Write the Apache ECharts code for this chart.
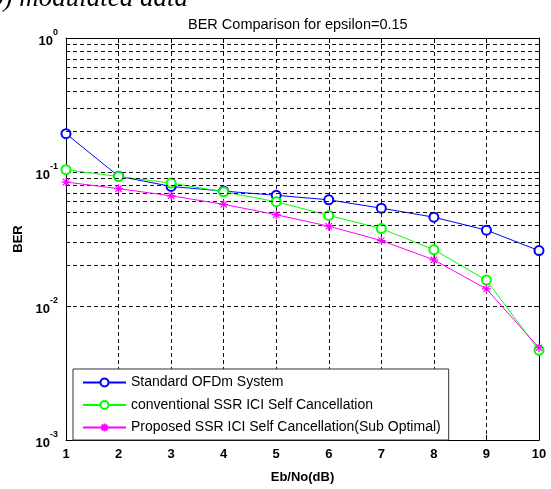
<!DOCTYPE html>
<html>
<head>
<meta charset="utf-8">
<style>
  html, body { margin: 0; padding: 0; background: #fff; }
  #chart { width: 551px; height: 489px; }
</style>
<script src="https://cdn.jsdelivr.net/npm/echarts@6/dist/echarts.min.js"></script>
</head>
<body>
<div id="chart"></div>
<script>
// Eb/No sweep (dB)
const ebno = [1, 2, 3, 4, 5, 6, 7, 8, 9, 10];

// BER curves
const standardOfdm = [0.193, 0.093, 0.078, 0.072, 0.067, 0.062, 0.0537, 0.046, 0.0368, 0.0259];
const conventionalSsr = [0.104, 0.0925, 0.0826, 0.0711, 0.060, 0.0474, 0.0378, 0.0263, 0.0156, 0.00467];
const proposedSsr = [0.0841, 0.0751, 0.0664, 0.0574, 0.048, 0.0394, 0.0308, 0.0221, 0.0134, 0.00488];

const seriesNames = [
  'Standard OFDm System',
  'conventional SSR ICI Self Cancellation',
  'Proposed SSR ICI Self Cancellation(Sub Optimal)'
];

// log-axis range and minor grid positions within each decade
const decades = [0.001, 0.01, 0.1];
const minorSteps = [2, 3, 4, 5, 6, 7, 8, 9];

const FONT = 'Liberation Sans, Arial, sans-serif';
const gridDash = { color: '#111', width: 1, type: [4, 3] };

const pairs = ys => ebno.map((x, i) => [x, ys[i]]);

const minorLines = [];
decades.forEach(d => minorSteps.forEach(m => minorLines.push({ yAxis: +(d * m).toPrecision(6) })));

const asterisk = 'path://M5,0L5,10M0,5L10,5M1.5,1.5L8.5,8.5M1.5,8.5L8.5,1.5';

const chart = echarts.init(document.getElementById('chart'), null, { renderer: 'canvas' });

chart.setOption({
  animation: false,
  backgroundColor: '#fff',
  title: {
    text: 'BER Comparison for epsilon=0.15',
    left: 183, top: 12,
    textStyle: { fontFamily: FONT, fontSize: 14.5, fontWeight: 'normal', color: '#000' }
  },
  graphic: [{
    type: 'text',
    left: -10, top: -15,
    style: {
      text: 'b) modulated data',
      font: 'italic 27px "Liberation Serif", "Times New Roman", serif',
      fill: '#000'
    }
  }],
  grid: { left: 66, right: 12, top: 38, bottom: 41, containLabel: false },
  legend: {
    orient: 'vertical',
    left: 73, top: 369,
    padding: [6, 8, 5, 9],
    itemWidth: 43, itemHeight: 10, itemGap: 7.5,
    backgroundColor: '#fff',
    borderColor: '#333', borderWidth: 1,
    textStyle: { fontFamily: FONT, fontSize: 14, color: '#000', lineHeight: 15 },
    data: seriesNames
  },
  xAxis: [{
    type: 'value', min: 1, max: 10, interval: 1,
    name: 'Eb/No(dB)', nameLocation: 'middle', nameGap: 31,
    nameTextStyle: { fontFamily: FONT, fontSize: 13, fontWeight: 'bold', color: '#000' },
    axisLine: { show: true, lineStyle: { color: '#000', width: 1 } },
    axisTick: { show: true, inside: true, length: 5, lineStyle: { color: '#000' } },
    axisLabel: { fontFamily: FONT, fontSize: 13, fontWeight: 'bold', color: '#000', margin: 8 },
    splitLine: { show: true, lineStyle: gridDash }
  }, {
    type: 'value', min: 1, max: 10, interval: 1, position: 'top',
    axisLine: { show: true, lineStyle: { color: '#000', width: 1 } },
    axisTick: { show: true, inside: true, length: 5, lineStyle: { color: '#000' } },
    axisLabel: { show: false },
    splitLine: { show: false }
  }],
  yAxis: [{
    type: 'log', logBase: 10, min: 0.001, max: 1,
    name: 'BER', nameLocation: 'middle', nameGap: 40,
    nameTextStyle: { fontFamily: FONT, fontSize: 13, fontWeight: 'bold', color: '#000' },
    axisLine: { show: true, lineStyle: { color: '#000', width: 1 } },
    axisTick: { show: true, inside: true, length: 5, lineStyle: { color: '#000' } },
    axisLabel: {
      margin: 8,
      formatter: v => '{b|10}{s|' + Math.round(Math.log10(v)) + '}',
      rich: {
        b: { fontFamily: FONT, fontSize: 13, fontWeight: 'bold', color: '#000', verticalAlign: 'bottom', lineHeight: 20 },
        s: { fontFamily: FONT, fontSize: 9, fontWeight: 'bold', color: '#000', verticalAlign: 'top', lineHeight: 20 }
      }
    },
    splitLine: { show: true, lineStyle: gridDash }
  }, {
    type: 'log', logBase: 10, min: 0.001, max: 1, position: 'right',
    axisLine: { show: true, lineStyle: { color: '#000', width: 1 } },
    axisTick: { show: true, inside: true, length: 5, lineStyle: { color: '#000' } },
    axisLabel: { show: false },
    splitLine: { show: false }
  }],
  series: [{
    name: seriesNames[0],
    type: 'line',
    data: pairs(standardOfdm),
    symbol: 'emptyCircle', symbolSize: 9,
    lineStyle: { color: '#0000ff', width: 1 },
    itemStyle: { color: '#0000ff', borderColor: '#0000ff', borderWidth: 1 },
    markLine: {
      silent: true, symbol: ['none', 'none'], label: { show: false },
      lineStyle: gridDash,
      data: minorLines
    },
    z: 3
  }, {
    name: seriesNames[1],
    type: 'line',
    data: pairs(conventionalSsr),
    symbol: 'emptyCircle', symbolSize: 9,
    lineStyle: { color: '#00ff00', width: 1 },
    itemStyle: { color: '#00ff00', borderColor: '#00ff00', borderWidth: 1 },
    z: 4
  }, {
    name: seriesNames[2],
    type: 'line',
    data: pairs(proposedSsr),
    symbol: asterisk, symbolSize: 9,
    lineStyle: { color: '#ff00ff', width: 1 },
    itemStyle: { color: '#ff00ff', borderColor: '#ff00ff', borderWidth: 1.2 },
    z: 5
  }]
});
</script>
</body>
</html>
